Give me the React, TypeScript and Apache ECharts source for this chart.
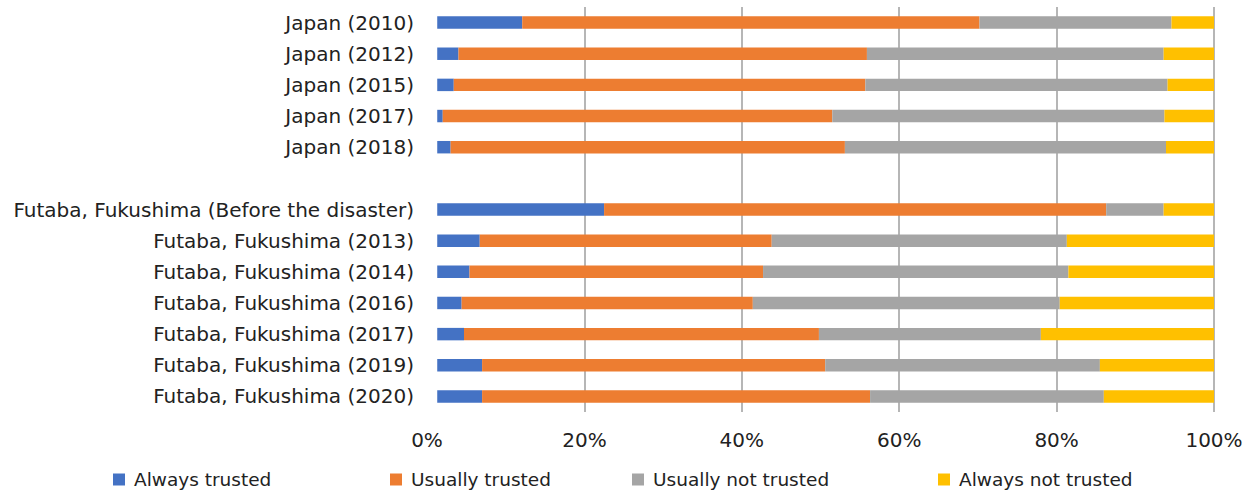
import React, { useEffect, useRef } from "react";
import * as echarts from "echarts";

const categories = [
  "Japan (2010)",
  "Japan (2012)",
  "Japan (2015)",
  "Japan (2017)",
  "Japan (2018)",
  "",
  "Futaba, Fukushima (Before the disaster)",
  "Futaba, Fukushima (2013)",
  "Futaba, Fukushima (2014)",
  "Futaba, Fukushima (2016)",
  "Futaba, Fukushima (2017)",
  "Futaba, Fukushima (2019)",
  "Futaba, Fukushima (2020)",
];

// invisible leading segment: the bars start slightly right of 0% in the source
const offset = [1.3, 1.3, 1.3, 1.3, 1.3, null, 1.3, 1.3, 1.3, 1.3, 1.3, 1.3, 1.3];
const alwaysTrusted = [10.8, 2.7, 2.1, 0.7, 1.7, null, 21.2, 5.4, 4.1, 3.1, 3.4, 5.7, 5.7];
const usuallyTrusted = [58.1, 51.9, 52.3, 49.5, 50.1, null, 63.8, 37.1, 37.3, 37.0, 45.1, 43.6, 49.3];
const usuallyNotTrusted = [24.4, 37.7, 38.4, 42.2, 40.8, null, 7.3, 37.5, 38.8, 39.0, 28.2, 34.9, 29.7];
const alwaysNotTrusted = [5.4, 6.4, 5.9, 6.3, 6.1, null, 6.4, 18.7, 18.5, 19.6, 22.0, 14.5, 14.0];

const seriesNames = ["Always trusted", "Usually trusted", "Usually not trusted", "Always not trusted"];
const seriesColors = ["#4472C4", "#ED7D31", "#A5A5A5", "#FFC000"];
const seriesValues = [alwaysTrusted, usuallyTrusted, usuallyNotTrusted, alwaysNotTrusted];
const legendLefts = [113, 390, 632, 938];

const FONT = "'DejaVu Sans', Verdana, sans-serif";
const TEXT = "#222222";

export default function App() {
  const ref = useRef<HTMLDivElement>(null);

  useEffect(() => {
    if (!ref.current) return;
    const chart = echarts.init(ref.current, null, { renderer: "svg" });

    const series: any[] = [
      {
        name: "offset",
        type: "bar",
        stack: "total",
        barWidth: "40%",
        data: offset,
        itemStyle: { color: "rgba(0,0,0,0)" },
        silent: true,
      },
      ...seriesNames.map((name, i) => ({
        name,
        type: "bar",
        stack: "total",
        barWidth: "40%",
        data: seriesValues[i],
        itemStyle: { color: seriesColors[i] },
      })),
    ];

    chart.setOption({
      animation: false,
      textStyle: { fontFamily: FONT },
      grid: { left: 427, right: 41, top: 7, bottom: 83, containLabel: false },
      xAxis: {
        type: "value",
        min: 0,
        max: 100,
        interval: 20,
        axisLine: { show: false },
        axisTick: { show: false },
        axisLabel: {
          formatter: "{value}%",
          fontSize: 20,
          color: TEXT,
          fontFamily: FONT,
          margin: 18,
        },
        splitLine: {
          show: true,
          showMinLine: false,
          lineStyle: { color: "#9e9e9e", width: 1.5 },
        },
      },
      yAxis: {
        type: "category",
        data: categories,
        inverse: true,
        axisLine: { show: false },
        axisTick: { show: false },
        axisLabel: { fontSize: 20, color: TEXT, fontFamily: FONT, margin: 13 },
        splitLine: { show: false },
      },
      legend: seriesNames.map((name, i) => ({
        data: [name],
        left: legendLefts[i],
        top: 470,
        padding: 0,
        icon: "rect",
        itemWidth: 12,
        itemHeight: 12,
        itemGap: 0,
        textStyle: { fontSize: 18.5, color: TEXT, fontFamily: FONT, padding: [0, 0, 0, 4] },
        selectedMode: false,
      })),
      series,
    });

    return () => chart.dispose();
  }, []);

  return (
    <div
      ref={ref}
      style={{ position: "fixed", left: 0, top: 0, width: 1255, height: 495, background: "#fff" }}
    />
  );
}
